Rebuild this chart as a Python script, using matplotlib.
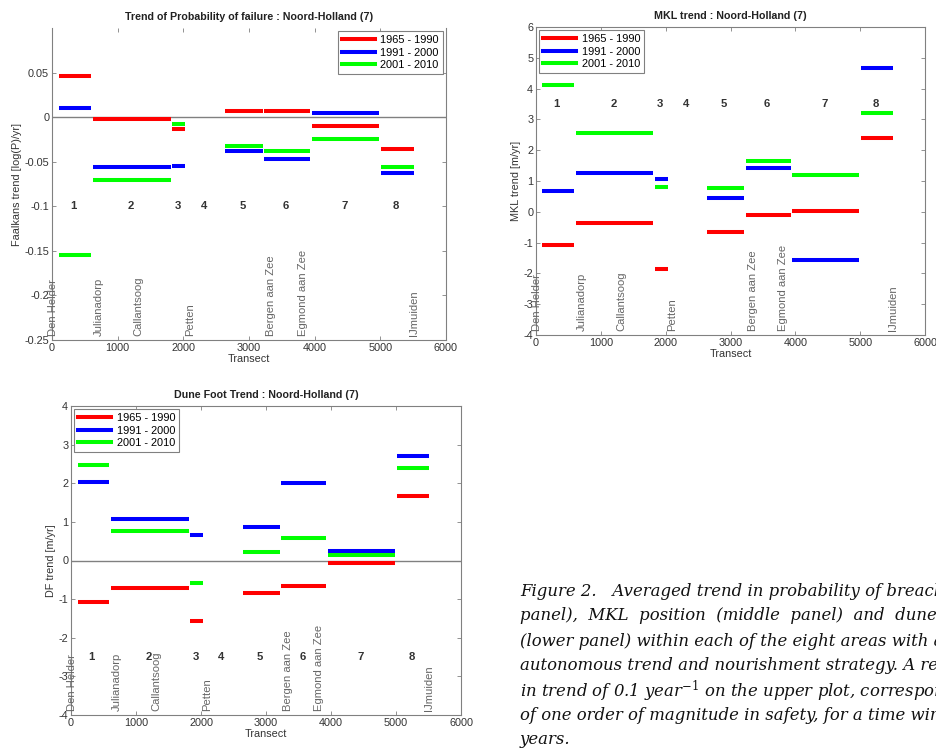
import numpy as np
import matplotlib
matplotlib.use('Agg')
import matplotlib.pyplot as plt

plt.rcParams['font.family'] = ['Liberation Sans', 'DejaVu Sans']
plt.rcParams['axes.unicode_minus'] = False
plt.rcParams['mathtext.fontset'] = 'dejavuserif'

# zones with data (zone 4 has none), transect start / end
zone_start = [100, 620, 1830, 2640, 3235, 3955, 5010]
zone_end = [590, 1810, 2030, 3210, 3930, 4980, 5510]

# zone numbers written inside the axes
zone_num = ['1', '2', '3', '4', '5', '6', '7', '8']
zone_num_x = [320, 1200, 1915, 2315, 2900, 3560, 4450, 5240]

# place names along the coast
place_names = ['Den Helder', 'Julianadorp', 'Callantsoog', 'Petten',
               'Bergen aan Zee', 'Egmond aan Zee', 'IJmuiden']
place_x = [20, 710, 1320, 2100, 3340, 3815, 5510]

periods = ['1965 - 1990', '1991 - 2000', '2001 - 2010']
colors = ['#ff0000', '#0000ff', '#00ff00']

# probability of failure trend [log(P)/yr]
pf_6590 = [0.0467, -0.0019, -0.0137, 0.0070, 0.0070, -0.0096, -0.0356]
pf_9100 = [0.0107, -0.0560, -0.0552, -0.0378, -0.0474, 0.0048, -0.0622]
pf_0110 = [-0.155, -0.0707, -0.0078, -0.0319, -0.0378, -0.0240, -0.0563]

# MKL trend [m/yr]
mkl_6590 = [-1.07, -0.36, -1.86, -0.64, -0.11, 0.04, 2.40]
mkl_9100 = [0.66, 1.26, 1.08, 0.46, 1.41, -1.55, 4.66]
mkl_0110 = [4.13, 2.56, 0.80, 0.78, 1.65, 1.21, 3.22]

# dune foot trend [m/yr]
df_6590 = [-1.08, -0.72, -1.56, -0.85, -0.65, -0.055, 1.68]
df_9100 = [2.04, 1.075, 0.67, 0.877, 2.00, 0.238, 2.706]
df_0110 = [2.47, 0.773, -0.573, 0.23, 0.575, 0.135, 2.404]

W, H = 936, 751
fig = plt.figure(figsize=(W / 100, H / 100), dpi=100)
fig.patch.set_facecolor('white')


def px_axes(left, right, top, bottom):
    return fig.add_axes([left / W, 1 - bottom / H, (right - left) / W, (bottom - top) / H])


def panel(ax, series, title, ylabel, ylim, yticks, yticklabels, num_y, legend_anchor, legend_loc,
          zero_line=True, top_spine=True):
    ax.set_xlim(0, 6000)
    ax.set_ylim(*ylim)
    if zero_line:
        ax.axhline(0, color='#808080', lw=1.0, zorder=1)
    handles = []
    for vals, c, lab in zip(series, colors, periods):
        for xs, xe, v in zip(zone_start, zone_end, vals):
            ax.plot([xs, xe], [v, v], color=c, lw=2.9, solid_capstyle='butt', zorder=3)
        h, = ax.plot([], [], color=c, lw=2.9, label=lab)
        handles.append(h)
    for t, x in zip(zone_num, zone_num_x):
        ax.text(x, num_y, t, ha='center', va='center', fontsize=8.2, fontweight='bold', color='#333333')
    for name, x in zip(place_names, place_x):
        ax.annotate(name, (x, ylim[0]), xytext=(0, 3), textcoords='offset points',
                    rotation=90, ha='center', va='bottom', fontsize=8.1, color='#666666')
    ax.set_xticks(np.arange(0, 6001, 1000))
    ax.set_yticks(yticks)
    ax.set_yticklabels(yticklabels)
    ax.tick_params(direction='in', length=3, width=0.6, top=True, right=True,
                   labelsize=7.8, labelcolor='#333333', color='#808080', pad=2)
    for s in ax.spines.values():
        s.set_color('#808080')
        s.set_linewidth(0.8)
    if not top_spine:
        ax.spines['top'].set_visible(False)
    ax.set_title(title, fontsize=7.7, fontweight='bold', color='#222222', pad=6)
    ax.set_ylabel(ylabel, fontsize=7.8, color='#333333', labelpad=2)
    ax.set_xlabel('Transect', fontsize=7.8, color='#333333', labelpad=1)
    leg = ax.legend(handles=handles, loc=legend_loc, bbox_to_anchor=legend_anchor,
                    fontsize=7.9, handlelength=3.0, handletextpad=0.5, labelspacing=0.22,
                    borderpad=0.35, borderaxespad=0.3, fancybox=False, framealpha=1)
    leg.get_frame().set_edgecolor('#808080')
    leg.get_frame().set_linewidth(0.8)


ax1 = px_axes(52, 446, 28, 340)
panel(ax1, [pf_6590, pf_9100, pf_0110], 'Trend of Probability of failure : Noord-Holland (7)',
      'Faalkans trend [log(P)/yr]', (-0.25, 0.1),
      [-0.25, -0.2, -0.15, -0.1, -0.05, 0, 0.05],
      ['-0.25', '-0.2', '-0.15', '-0.1', '-0.05', '0', '0.05'],
      -0.1, (1, 1), 'upper right', top_spine=False)

ax2 = px_axes(536, 925, 27, 335)
panel(ax2, [mkl_6590, mkl_9100, mkl_0110], 'MKL trend : Noord-Holland (7)',
      'MKL trend [m/yr]', (-4, 6), list(range(-4, 7)), [str(v) for v in range(-4, 7)],
      3.5, (0, 1), 'upper left', zero_line=False)

ax3 = px_axes(71, 461, 406, 715)
panel(ax3, [df_6590, df_9100, df_0110], 'Dune Foot Trend : Noord-Holland (7)',
      'DF trend [m/yr]', (-4, 4), list(range(-4, 5)), [str(v) for v in range(-4, 5)],
      -2.5, (0, 1), 'upper left')

# caption (the page is cropped at the right, as in the source)
caption = [
    'Figure 2.   Averaged trend in probability of breach (upper',
    'panel),  MKL  position  (middle  panel)  and  dune  foot  position',
    '(lower panel) within each of the eight areas with a similar',
    'autonomous trend and nourishment strategy. A reduction',
    'in trend of 0.1 year$^{-1}$ on the upper plot, corresponds to an increase',
    'of one order of magnitude in safety, for a time window of ten',
    'years.',
]
caption_y = [591, 616, 641, 666, 691, 716, 740]
for line, y in zip(caption, caption_y):
    fig.text(520 / W, 1 - y / H, line, fontsize=11.9, family='DejaVu Serif', style='italic',
             color='#111111', ha='left', va='center')

fig.savefig('out.png', dpi=100, facecolor='white')
